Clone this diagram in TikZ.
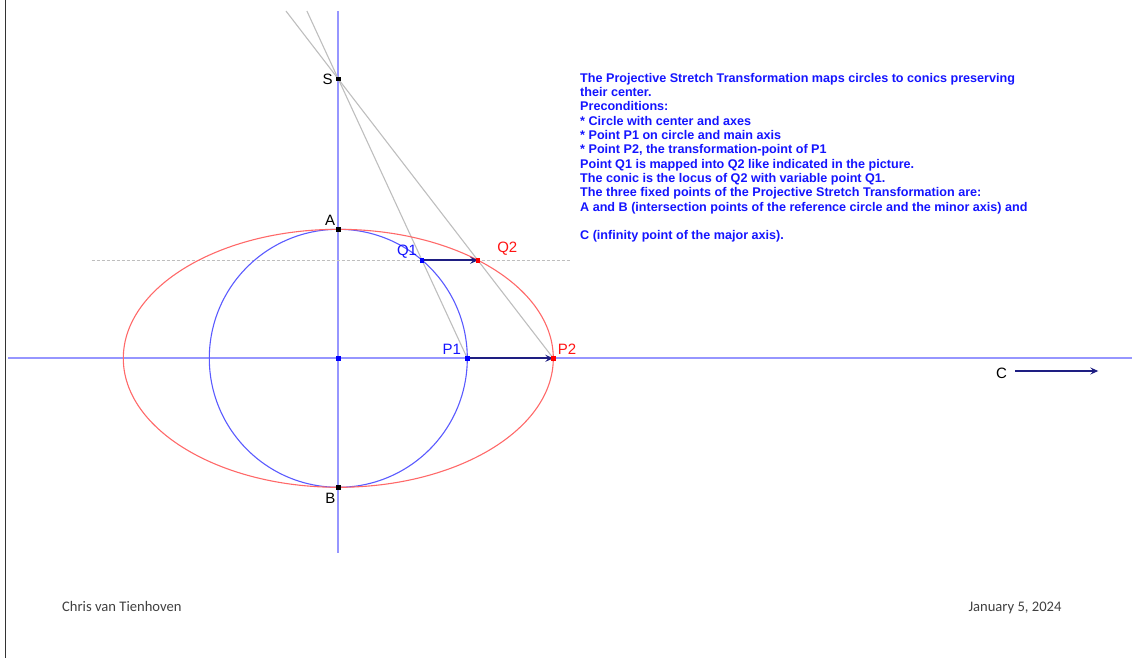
\documentclass[tikz,border=0pt]{standalone}
\usepackage{fontspec}
\setmainfont{Liberation Sans}
\newfontfamily\calibri{Carlito}
\usepackage{tikz}
\usetikzlibrary{positioning,arrows.meta,calc}
\usepackage{xcolor}

\definecolor{axisblue}{RGB}{150,150,255}
\definecolor{circblue}{RGB}{90,90,255}
\definecolor{ellred}{RGB}{255,105,105}
\definecolor{navyarr}{RGB}{30,30,130}
\definecolor{txtblue}{RGB}{20,20,255}
\definecolor{grayline}{RGB}{190,190,190}
\definecolor{labred}{RGB}{255,20,20}

\begin{document}
\begin{tikzpicture}[
    x=1pt, y=-1pt,
    axis/.style={draw=axisblue, line width=1.7pt},
    ray/.style={draw=grayline, line width=1.1pt},
    ptmark/.style={rectangle, fill=#1, inner sep=0pt, minimum size=4.5pt},
    lbl/.style={text=#1, inner sep=0pt, font=\fontsize{15}{16}\selectfont},
    stretch/.style={draw=navyarr, line width=1.8pt, -{Stealth[length=8pt, width=7pt, inset=3pt]}},
    infotext/.style={text=txtblue, inner sep=0pt, align=left, font=\bfseries\fontsize{12.6}{14.3}\selectfont},
    footer/.style={inner sep=0pt, text=black!75, font=\calibri\fontsize{14.6}{16}\selectfont},
]
    \useasboundingbox (0,0) rectangle (1132,658);
    \draw[black!80, line width=1.6pt] (5.5,0) -- (5.5,658);

    % axes
    \coordinate (axT) at (338.3,11);
    \coordinate (axB) at (338.3,552.7);
    \coordinate (axL) at (8,358.3);
    \coordinate (axR) at (1132,358.3);
    \draw[axis] (axT) -- (axB);
    \draw[axis] (axL) -- (axR);

    % points
    \node[ptmark=blue] (O) at (338.3,358.3) {};
    \node[ptmark=black] (S) at (338.3,79) {};
    \node[ptmark=black] (A) at (338.3,229.3) {};
    \node[ptmark=black] (B) at (338.3,487.3) {};
    \node[ptmark=blue] (P1) at (467.3,358.3) {};
    \node[ptmark=red] (P2) at (553.3,358.3) {};
    \node[ptmark=blue] (Q1) at (422.2,260.3) {};
    \node[ptmark=red] (Q2) at (478.1,260.3) {};

    % rays through S
    \draw[ray] ($(S.center)!-0.2435!(P1.center)$) -- (P1.center);
    \draw[ray] ($(S.center)!-0.2435!(P2.center)$) -- (P2.center);

    \coordinate (dL) at (91.7,260.3);
    \coordinate (dR) at (570,260.3);
    \draw[grayline, line width=1.1pt, dash pattern=on 3pt off 2pt] (dL) -- (dR);

    % circle and conic
    \draw[circblue, line width=1.1pt] (O.center) circle[radius=129pt];
    \draw[ellred, line width=1.1pt] (O.center) ellipse[x radius=215pt, y radius=129pt];

    \draw[stretch] (Q1.center) -- (Q2.center);
    \draw[stretch] (P1.center) -- (P2.center);

    \foreach \p/\c in {O/blue, S/black, A/black, B/black, P1/blue, P2/red, Q1/blue, Q2/red} {
        \node[ptmark=\c] at (\p) {};
    }

    % labels
    \node[lbl=black] (lS) at (327.7,79) {S};
    \node[lbl=black] (lA) at (330,220) {A};
    \node[lbl=black] (lB) at (330.3,498) {B};
    \node[lbl=txtblue] (lQ1) at (407,251.5) {Q1};
    \node[lbl=labred] (lQ2) at (507.3,249) {Q2};
    \node[lbl=txtblue] (lP1) at (451.7,349.7) {P1};
    \node[lbl=labred] (lP2) at (567,349.5) {P2};
    \node[lbl=black] (lC) at (1001.5,373) {C};

    \coordinate (Cfrom) at (1015,371);
    \coordinate (Cinf) at (1098.3,371);
    \draw[draw=navyarr, line width=1.5pt, -{Stealth[length=8pt, width=7pt, inset=3pt]}] (Cfrom) -- (Cinf);

    \node[infotext, anchor=north west] (info) at (580,73) {The Projective Stretch Transformation maps circles to conics preserving\\
their center.\\
Preconditions:\\
* Circle with center and axes\\
* Point P1 on circle and main axis\\
* Point P2, the transformation-point of P1\\
Point Q1 is mapped into Q2 like indicated in the picture.\\
The conic is the locus of Q2 with variable point Q1.\\
The three fixed points of the Projective Stretch Transformation are:\\
A and B (intersection points of the reference circle and the minor axis) and\\[14.3pt]
C (infinity point of the major axis).};

    \node[footer, anchor=base west] (author) at (62,611) {Chris van Tienhoven};
    \node[footer, anchor=base east] (date) at (1061.7,611) {January 5, 2024};
\end{tikzpicture}
\end{document}
